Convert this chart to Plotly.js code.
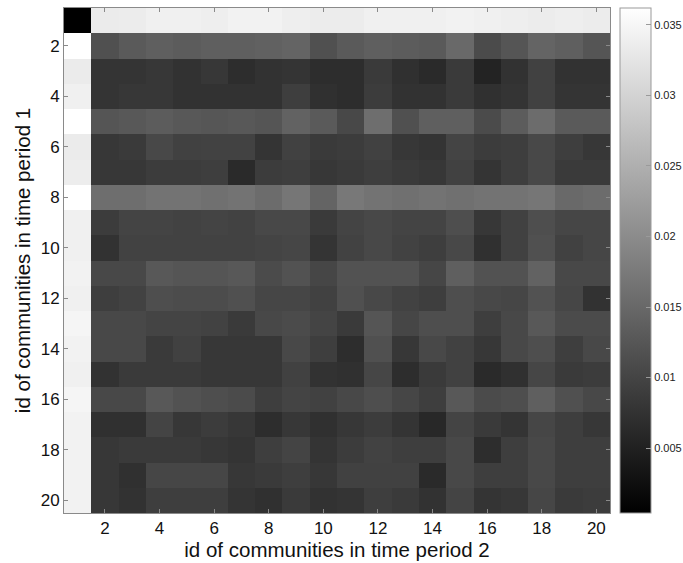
<!DOCTYPE html>
<html>
<head>
<meta charset="utf-8">
<script src="https://cdn.plot.ly/plotly-3.0.1.min.js"></script>
<style>html,body{margin:0;padding:0;background:#fff;}#chart{width:683px;height:563px;}</style>
</head>
<body>
<div id="chart"></div>
<script>
// community ids (period 2 on x, period 1 on y)
const period2Ids = [1,2,3,4,5,6,7,8,9,10,11,12,13,14,15,16,17,18,19,20];
const period1Ids = [1,2,3,4,5,6,7,8,9,10,11,12,13,14,15,16,17,18,19,20];
const xTickVals = [2,4,6,8,10,12,14,16,18,20];
const yTickVals = [2,4,6,8,10,12,14,16,18,20];
const cbTickVals = [0.005,0.01,0.015,0.02,0.025,0.03,0.035];
const cbTickText = ['0.005','0.01','0.015','0.02','0.025','0.03','0.035'];
const zMin = 0.0004, zMax = 0.0362;

// similarity values, one row per community of period 1
const similarity = [
  [0.0004,0.0334,0.0335,0.0341,0.0341,0.0338,0.0344,0.0344,0.0338,0.0335,0.0335,0.0341,0.0341,0.0341,0.0344,0.0341,0.0338,0.0335,0.0338,0.0335],
  [0.0362,0.0116,0.0130,0.0137,0.0133,0.0137,0.0137,0.0140,0.0144,0.0116,0.0130,0.0137,0.0133,0.0130,0.0151,0.0109,0.0123,0.0144,0.0137,0.0123],
  [0.0334,0.0077,0.0077,0.0081,0.0074,0.0081,0.0067,0.0074,0.0077,0.0067,0.0067,0.0085,0.0071,0.0063,0.0085,0.0053,0.0074,0.0095,0.0074,0.0074],
  [0.0341,0.0077,0.0081,0.0081,0.0074,0.0074,0.0074,0.0074,0.0091,0.0071,0.0067,0.0088,0.0074,0.0074,0.0085,0.0071,0.0077,0.0095,0.0077,0.0077],
  [0.0362,0.0123,0.0128,0.0133,0.0128,0.0125,0.0128,0.0123,0.0142,0.0130,0.0105,0.0158,0.0116,0.0137,0.0137,0.0109,0.0133,0.0156,0.0130,0.0130],
  [0.0334,0.0081,0.0085,0.0105,0.0095,0.0097,0.0097,0.0077,0.0095,0.0085,0.0088,0.0095,0.0081,0.0077,0.0099,0.0088,0.0091,0.0105,0.0091,0.0081],
  [0.0337,0.0081,0.0081,0.0088,0.0088,0.0091,0.0063,0.0088,0.0091,0.0081,0.0085,0.0091,0.0085,0.0081,0.0095,0.0077,0.0091,0.0105,0.0085,0.0085],
  [0.0362,0.0158,0.0158,0.0165,0.0165,0.0161,0.0165,0.0156,0.0170,0.0144,0.0172,0.0165,0.0161,0.0165,0.0161,0.0165,0.0165,0.0170,0.0151,0.0156],
  [0.0341,0.0088,0.0099,0.0099,0.0097,0.0099,0.0097,0.0105,0.0105,0.0085,0.0099,0.0105,0.0099,0.0099,0.0114,0.0081,0.0095,0.0114,0.0102,0.0102],
  [0.0341,0.0074,0.0097,0.0097,0.0097,0.0097,0.0097,0.0099,0.0102,0.0077,0.0097,0.0105,0.0097,0.0091,0.0105,0.0071,0.0095,0.0116,0.0095,0.0102],
  [0.0344,0.0105,0.0105,0.0128,0.0123,0.0123,0.0128,0.0109,0.0119,0.0102,0.0119,0.0119,0.0119,0.0102,0.0137,0.0119,0.0119,0.0142,0.0105,0.0105],
  [0.0341,0.0091,0.0097,0.0114,0.0111,0.0111,0.0116,0.0102,0.0102,0.0095,0.0116,0.0105,0.0097,0.0091,0.0114,0.0105,0.0102,0.0119,0.0102,0.0074],
  [0.0348,0.0105,0.0105,0.0099,0.0099,0.0097,0.0085,0.0105,0.0109,0.0099,0.0085,0.0123,0.0102,0.0114,0.0114,0.0091,0.0105,0.0128,0.0109,0.0109],
  [0.0344,0.0105,0.0105,0.0085,0.0095,0.0081,0.0081,0.0081,0.0105,0.0091,0.0067,0.0116,0.0081,0.0105,0.0095,0.0081,0.0105,0.0114,0.0091,0.0105],
  [0.0341,0.0074,0.0085,0.0085,0.0085,0.0081,0.0081,0.0081,0.0095,0.0074,0.0071,0.0102,0.0067,0.0085,0.0095,0.0063,0.0071,0.0102,0.0085,0.0088],
  [0.0348,0.0105,0.0105,0.0128,0.0119,0.0114,0.0109,0.0091,0.0099,0.0095,0.0105,0.0114,0.0102,0.0091,0.0128,0.0109,0.0114,0.0137,0.0116,0.0105],
  [0.0344,0.0071,0.0071,0.0099,0.0081,0.0088,0.0081,0.0067,0.0081,0.0071,0.0081,0.0088,0.0077,0.0060,0.0099,0.0085,0.0077,0.0102,0.0091,0.0081],
  [0.0344,0.0081,0.0085,0.0085,0.0085,0.0081,0.0077,0.0091,0.0099,0.0077,0.0088,0.0097,0.0091,0.0091,0.0105,0.0067,0.0091,0.0105,0.0091,0.0091],
  [0.0344,0.0081,0.0071,0.0102,0.0102,0.0102,0.0081,0.0085,0.0091,0.0081,0.0095,0.0095,0.0095,0.0063,0.0105,0.0091,0.0091,0.0105,0.0091,0.0091],
  [0.0344,0.0081,0.0074,0.0091,0.0091,0.0091,0.0077,0.0071,0.0085,0.0074,0.0077,0.0091,0.0085,0.0074,0.0099,0.0077,0.0081,0.0102,0.0085,0.0088]
];

const fontFamily = 'Liberation Sans, Arial, sans-serif';

const trace = {
  type: 'heatmap',
  x: period2Ids,
  y: period1Ids,
  z: similarity,
  zmin: zMin,
  zmax: zMax,
  colorscale: [[0,'#000000'],[1,'#ffffff']],
  hoverinfo: 'x+y+z',
  colorbar: {
    thickness: 31, thicknessmode: 'pixels',
    len: 1, lenmode: 'fraction',
    x: 1.0183, xanchor: 'left', xpad: 0,
    y: 0.5, yanchor: 'middle', ypad: 0,
    outlinewidth: 1, outlinecolor: '#9a9a9a',
    ticks: 'inside', ticklen: 5, tickcolor: '#9a9a9a',
    tickvals: cbTickVals, ticktext: cbTickText,
    tickfont: {family: fontFamily, size: 11, color: '#222'}
  }
};

const axisFont = {family: fontFamily, size: 17, color: '#111'};
const titleFont = {family: fontFamily, size: 20.5, color: '#111'};
const layout = {
  width: 683, height: 563,
  margin: {l: 64, r: 73, t: 8, b: 50, pad: 0, autoexpand: false},
  paper_bgcolor: '#ffffff', plot_bgcolor: '#ffffff',
  xaxis: {
    range: [0.5, 20.5], tickvals: xTickVals, ticktext: xTickVals.map(String),
    ticks: 'inside', ticklen: 4, tickcolor: '#8a8a8a',
    showline: true, linecolor: '#8a8a8a', linewidth: 1, mirror: 'ticks',
    showgrid: false, zeroline: false, automargin: false,
    tickfont: axisFont,
    title: {text: 'id of communities in time period 2', font: titleFont, standoff: 0}
  },
  yaxis: {
    range: [20.5, 0.5], tickvals: yTickVals, ticktext: yTickVals.map(String),
    ticks: 'inside', ticklen: 4, tickcolor: '#8a8a8a',
    showline: true, linecolor: '#8a8a8a', linewidth: 1, mirror: 'ticks',
    showgrid: false, zeroline: false, automargin: false,
    tickfont: axisFont,
    title: {text: 'id of communities in time period 1', font: titleFont, standoff: 4}
  }
};

Plotly.newPlot('chart', [trace], layout, {displayModeBar: false, staticPlot: true});
</script>
</body>
</html>
